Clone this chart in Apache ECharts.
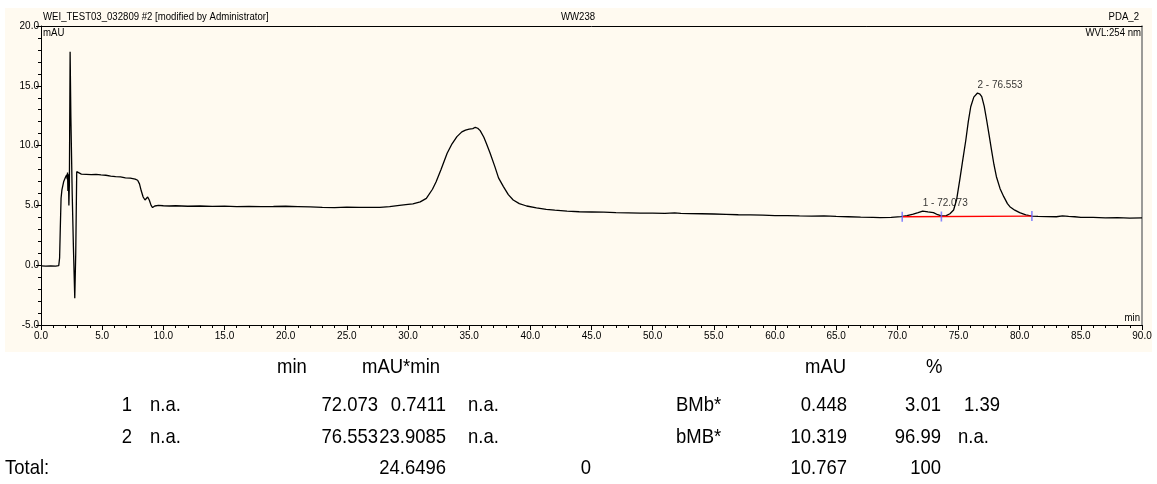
<!DOCTYPE html>
<html>
<head>
<meta charset="utf-8">
<script src="https://cdn.jsdelivr.net/npm/echarts@6/dist/echarts.min.js"></script>
<style>
  html, body { margin: 0; padding: 0; background: #ffffff; }
  #chart { width: 1157px; height: 484px; }
</style>
</head>
<body>
<div id="chart"></div>
<script>
// Chromatogram trace: retention time (min) and detector signal (mAU)
const retentionTime = [
  0.0, 0.4, 0.8, 1.2, 1.45, 1.52, 1.58, 1.64, 1.71, 1.85, 2.0, 2.1, 2.14, 2.17, 2.2, 2.24, 2.28, 2.32,
  2.38, 2.44, 2.55, 2.65, 2.76, 2.84, 2.92, 3.0, 3.3, 3.7, 4.1, 4.5, 4.9, 5.3, 5.7, 6.1, 6.5, 6.9, 7.3,
  7.7, 7.9, 8.05, 8.2, 8.35, 8.5, 8.6, 8.72, 8.85, 9.0, 9.12, 9.3, 9.6, 10.0, 10.5, 11.0, 12.0, 13.0,
  14.0, 15.0, 16.0, 17.0, 18.0, 19.0, 20.0, 21.0, 22.0, 23.0, 24.0, 25.0, 26.0, 27.0, 27.7, 28.5, 29.3,
  30.0, 30.4, 31.0, 31.5, 32.0, 32.3, 32.7, 33.2, 33.6, 34.0, 34.4, 34.7, 35.0, 35.3, 35.5, 35.7, 35.9,
  36.2, 36.4, 36.7, 37.1, 37.4, 37.8, 38.2, 38.6, 39.1, 39.7, 40.5, 41.3, 42.0, 43.0, 44.0, 45.0, 46.0,
  47.0, 48.0, 49.0, 50.0, 51.0, 51.8, 52.3, 53.0, 54.0, 55.0, 56.0, 57.0, 58.0, 59.0, 60.0, 61.0, 62.0,
  63.0, 64.0, 65.0, 66.0, 67.0, 68.0, 68.6, 69.5, 70.3, 70.8, 71.3, 71.7, 72.073, 72.5, 72.95, 73.3,
  73.6, 74.0, 74.3, 74.6, 74.85, 75.1, 75.35, 75.6, 75.8, 76.0, 76.25, 76.553, 76.75, 76.9, 77.1, 77.3,
  77.5, 77.7, 77.9, 78.1, 78.4, 78.7, 79.0, 79.2, 79.6, 80.0, 80.5, 81.0, 81.5, 82.2, 83.0, 83.5, 84.0,
  84.5, 85.0, 86.0, 87.0, 88.0, 89.0, 90.0
];
const absorbance = [
  -0.05, -0.08, -0.06, -0.07, -0.04, 0.6, 3.2, 5.6, 6.3, 6.97, 7.35, 7.55, 7.2, 7.75, 6.2, 7.6, 5.0, 6.8,
  17.85, 12.5, 6.0, 1.5, -2.77, 1.0, 7.82, 7.7, 7.62, 7.6, 7.58, 7.6, 7.55, 7.52, 7.45, 7.4, 7.38, 7.3, 7.28,
  7.2, 7.1, 6.8, 6.2, 5.7, 5.45, 5.5, 5.7, 5.45, 5.0, 4.82, 4.95, 5.0, 4.97, 4.95, 4.97, 4.93, 4.95,
  4.92, 4.94, 4.9, 4.92, 4.9, 4.91, 4.93, 4.9, 4.87, 4.84, 4.82, 4.85, 4.83, 4.84, 4.84, 4.9, 5.0,
  5.08, 5.12, 5.3, 5.59, 6.35, 6.98, 8.0, 9.36, 10.15, 10.75, 11.15, 11.3, 11.38, 11.42, 11.53, 11.45, 11.25,
  10.7, 10.19, 9.4, 8.24, 7.3, 6.57, 5.9, 5.45, 5.15, 4.95, 4.8, 4.67, 4.6, 4.52, 4.47, 4.45, 4.43,
  4.4, 4.38, 4.36, 4.35, 4.33, 4.37, 4.33, 4.31, 4.3, 4.28, 4.25, 4.22, 4.21, 4.19, 4.15, 4.15, 4.12,
  4.1, 4.12, 4.08, 4.05, 4.02, 4.0, 3.97, 4.0, 4.06, 4.15, 4.28, 4.4, 4.52, 4.45, 4.39, 4.22,
  4.12, 4.14, 4.3, 4.62, 5.5, 7.12, 8.8, 10.47, 12.0, 13.25, 14.05, 14.4, 14.3, 14.09, 13.3, 12.14,
  10.9, 9.63, 8.4, 7.4, 6.4, 5.73, 5.15, 4.89, 4.6, 4.39, 4.2, 4.11, 4.08, 4.06, 4.05, 4.12, 4.08,
  4.05, 4.0, 4.0, 3.95, 3.97, 3.93, 3.95
];

// Integrated peaks
const peakNumber = [1, 2];
const peakTime = [72.073, 76.553];

// Integration baseline and peak delimiters
const baselineTime = [70.4, 81.0];
const baselineLevel = [4.05, 4.11];
const delimiterTime = [70.4, 73.6, 81.0];
const delimiterLevel = [4.05, 4.07, 4.11];

// Header captions
const sampleName = 'WEI_TEST03_032809 #2 [modified by Administrator]';
const sequenceName = 'WW238';
const channelName = 'PDA_2';
const wavelengthText = 'WVL:254 nm';
const yUnit = 'mAU';
const xUnit = 'min';

// Peak table
const tableHeader = ['min', 'mAU*min', 'mAU', '%'];
const tableRow1 = ['1', 'n.a.', '72.073', '0.7411', 'n.a.', 'BMb*', '0.448', '3.01', '1.39'];
const tableRow2 = ['2', 'n.a.', '76.553', '23.9085', 'n.a.', 'bMB*', '10.319', '96.99', 'n.a.'];
const tableTotal = ['Total:', '24.6496', '0', '10.767', '100'];

const FONT = "'Liberation Sans', Arial, sans-serif";

const chart = echarts.init(document.getElementById('chart'), null, { renderer: 'canvas' });

const trace = retentionTime.map((t, i) => [t, absorbance[i]]);
const peakPoints = peakTime.map((t, i) => {
  const idx = retentionTime.indexOf(t);
  return { value: [t, absorbance[idx]], name: peakNumber[i] + ' - ' + t.toFixed(3) };
});

// Table cell placement: [anchor x, alignment]
const rowCols = [[132, 'right'], [150, 'left'], [378, 'right'], [446, 'right'], [468, 'left'],
                 [676, 'left'], [847, 'right'], [941, 'right'], [958, 'left']];
const headerCols = [[277, 'left'], [362, 'left'], [805, 'left'], [926, 'left']];
const totalCols = [[5, 'left'], [446, 'right'], [586, 'center'], [847, 'right'], [941, 'right']];

// Condensed text: horizontal squeeze around the anchor point
function textEl(x, y, str, align, size, vAlign, squeeze) {
  return {
    type: 'text', x: x, y: y, scaleX: squeeze || 1, silent: true,
    style: { text: str, align: align, verticalAlign: vAlign || 'middle', fill: '#000',
             font: size + 'px ' + FONT }
  };
}

const TABLE_SIZE = 21;
const TABLE_SQUEEZE = 0.88;
const tableEls = [];
tableHeader.forEach((s, i) =>
  tableEls.push(textEl(headerCols[i][0], 367, s, headerCols[i][1], TABLE_SIZE, 'middle', TABLE_SQUEEZE)));
tableRow1.forEach((s, i) => {
  const c = rowCols[i];
  tableEls.push(textEl(i === 8 ? 1000 : c[0], 405, s, i === 8 ? 'right' : c[1],
                       TABLE_SIZE, 'middle', TABLE_SQUEEZE));
});
tableRow2.forEach((s, i) =>
  tableEls.push(textEl(rowCols[i][0], 437, s, rowCols[i][1], TABLE_SIZE, 'middle', TABLE_SQUEEZE)));
tableTotal.forEach((s, i) =>
  tableEls.push(textEl(totalCols[i][0], 468, s, totalCols[i][1], TABLE_SIZE, 'middle', TABLE_SQUEEZE)));

const option = {
  animation: false,
  backgroundColor: '#ffffff',
  textStyle: { fontFamily: FONT },
  grid: { left: 41, right: 15, top: 26, bottom: 159, containLabel: false },
  xAxis: [{
    type: 'value', min: 0, max: 90, interval: 5,
    axisLine: { show: true, onZero: false, lineStyle: { color: '#000', width: 1 } },
    axisTick: { show: true, length: 5, lineStyle: { color: '#000' } },
    minorTick: { show: true, splitNumber: 5, length: 3, lineStyle: { color: '#000' } },
    axisLabel: { color: '#000', fontSize: 10, margin: 6, fontFamily: FONT,
                 formatter: v => v.toFixed(1) },
    splitLine: { show: false }
  }, {
    type: 'value', min: 0, max: 90, position: 'top',
    axisLine: { show: true, onZero: false, lineStyle: { color: '#000', width: 1 } },
    axisTick: { show: false }, axisLabel: { show: false }, splitLine: { show: false }
  }],
  yAxis: [{
    type: 'value', min: -5, max: 20, interval: 5,
    axisLine: { show: true, onZero: false, lineStyle: { color: '#000', width: 1 } },
    axisTick: { show: true, length: 5, lineStyle: { color: '#000' } },
    minorTick: { show: true, splitNumber: 5, length: 3, lineStyle: { color: '#000' } },
    axisLabel: { color: '#000', fontSize: 10, margin: 2, fontFamily: FONT,
                 formatter: v => v.toFixed(1) },
    splitLine: { show: false }
  }, {
    type: 'value', min: -5, max: 20, position: 'right',
    axisLine: { show: true, onZero: false, lineStyle: { color: '#7a7a7a', width: 1.5 } },
    axisTick: { show: false }, axisLabel: { show: false }, splitLine: { show: false }
  }],
  series: [{
    name: 'signal', type: 'line', data: trace, showSymbol: false, symbol: 'none',
    lineStyle: { color: '#000', width: 1.3 }, z: 3
  }, {
    name: 'baseline', type: 'line', data: baselineTime.map((t, i) => [t, baselineLevel[i]]),
    symbol: 'none', lineStyle: { color: '#ff0000', width: 1.3 }, z: 4
  }, {
    name: 'delimiters', type: 'scatter', data: delimiterTime.map((t, i) => [t, delimiterLevel[i]]),
    symbol: 'rect', symbolSize: [1.6, 10], itemStyle: { color: '#6a6aff' }, z: 5
  }, {
    name: 'peaks', type: 'scatter', data: peakPoints, symbolSize: 0,
    label: { show: true, position: 'top', align: 'left', distance: 3, color: '#000',
             fontSize: 10, fontFamily: FONT, formatter: p => p.name }, z: 6
  }],
  graphic: [
    { type: 'rect', z: -10, silent: true, shape: { x: 5, y: 8, width: 1147, height: 344 },
      style: { fill: '#fffaf0' } },
    textEl(43, 22, sampleName, 'left', 10, 'bottom', 0.96),
    textEl(578, 22, sequenceName, 'center', 10, 'bottom', 0.96),
    textEl(1139, 22, channelName, 'right', 10, 'bottom', 0.96),
    textEl(1141, 33, wavelengthText, 'right', 10, 'middle', 0.96),
    textEl(43, 33, yUnit, 'left', 10, 'middle', 0.96),
    textEl(1140, 318, xUnit, 'right', 10, 'middle', 0.96)
  ].concat(tableEls)
};

chart.setOption(option);
</script>
</body>
</html>
